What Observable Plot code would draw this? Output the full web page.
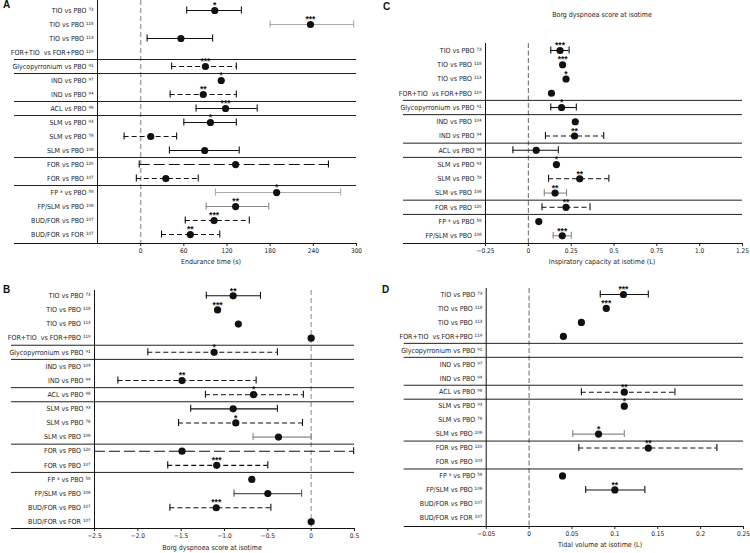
<!DOCTYPE html>
<html><head><meta charset="utf-8">
<script src="https://cdn.jsdelivr.net/npm/d3@7"></script>
<script src="https://cdn.jsdelivr.net/npm/@observablehq/plot@0.6"></script>
<style>
body{margin:0;background:#fff;}
#wrap{position:relative;width:750px;height:553px;overflow:hidden;font-family:"Liberation Sans Narrow","DejaVu Sans Condensed",Roboto,sans-serif;color:#222;}
.panel{position:absolute;}
.letter{position:absolute;font:bold 10px "Liberation Sans",Arial,sans-serif;line-height:10px;color:#111;}
.cap{position:absolute;width:220px;margin-left:-110px;text-align:center;font-size:7px;line-height:10px;color:#222;}
</style></head><body><div id="wrap"></div><script>
// ---------- data ----------
const groups17 = ["TIO","TIO","TIO","TIO","GLY","IND","IND","ACL","SLM","SLM","SLM","FOR","FOR","ICS","ICS","ICS","ICS"];
const groups14 = ["TIO","TIO","TIO","TIO","GLY","IND","IND","ACL","SLM","SLM","SLM","FOR","ICS","ICS"];

const labelsA = ["TIO vs PBO ⁷³","TIO vs PBO ¹¹⁸","TIO vs PBO ¹¹³","FOR+TIO  vs FOR+PBO ¹¹⁹","Glycopyrronium vs PBO ⁹¹","IND vs PBO ⁹⁷","IND vs PBO ⁹⁴","ACL vs PBO ⁹⁶","SLM vs PBO ⁹³","SLM vs PBO ⁷⁶","SLM vs PBO ¹⁰⁶","FOR vs PBO ¹²⁰","FOR vs PBO ¹⁰⁷","FP ᵃ vs PBO ⁵⁸","FP/SLM vs PBO ¹⁰⁶","BUD/FOR vs PBO ¹⁰⁷","BUD/FOR vs FOR ¹⁰⁷"];
const estA  = [103, 236, 56, null, 90, 112, 87, 118, 97, 14, 89, 132, 35, 189, 132, 102, 69];
const lowA  = [64, 180, 9, null, 43, null, 41, 77, 60, -23, 40, -2, -6, 104, 91, 62, 29];
const highA = [140, 296, 100, null, 133, null, 133, 162, 133, 50, 137, 261, 80, 278, 178, 151, 110];
const starsA = ["*","***","","","***","*","**","***","*","","","","","*","**","***","**"];
const barA = ["solid","lightgray","solid","","dash","","dash","solid","solid","dash","solid","longdash","dash","lightgray","gray","dash","dash"];
const ticksA = [0, 60, 120, 180, 240, 300];
const tickLabelsA = ["0","60","120","180","240","300"];

const labelsB = ["TIO vs PBO ⁷³","TIO vs PBO ¹¹⁸","TIO vs PBO ¹¹³","FOR+TIO  vs FOR+PBO ¹¹⁹","Glycopyrronium vs PBO ⁹¹","IND vs PBO ¹⁰⁴","IND vs PBO ⁹⁴","ACL vs PBO ⁹⁶","SLM vs PBO ⁹³","SLM vs PBO ⁷⁶","SLM vs PBO ¹⁰⁶","FOR vs PBO ¹²⁰","FOR vs PBO ¹⁰⁷","FP ᵃ vs PBO ⁵⁸","FP/SLM vs PBO ¹⁰⁶","BUD/FOR vs PBO ¹⁰⁷","BUD/FOR vs FOR ¹⁰⁷"];
const estB  = [-0.90, -1.08, -0.84, 0, -1.12, null, -1.49, -0.665, -0.90, -0.87, -0.377, -1.49, -1.09, -0.685, -0.50, -1.095, 0];
const lowB  = [-1.21, null, null, null, -1.885, null, -2.23, -1.22, -1.39, -1.53, -0.67, -2.5, -1.655, null, -0.89, -1.63, null];
const highB = [-0.585, null, null, null, -0.39, null, -0.635, -0.09, -0.39, -0.10, 0, 0.49, -0.50, null, -0.11, -0.465, null];
const starsB = ["**","***","","","*","","**","*","","*","","","***","","","***",""];
const barB = ["solid","","","","dash","","dash","dash","solid","dash","gray","longdash","dash","","darkgray","dash",""];
const ticksB = [-2.5, -2, -1.5, -1, -0.5, 0, 0.5];
const tickLabelsB = ["−2.5","−2.0","−1.5","−1.0","−0.5","0","0.5"];

const labelsC = ["TIO vs PBO ⁷³","TIO vs PBO ¹¹⁸","TIO vs PBO ¹¹³","FOR+TIO  vs FOR+PBO ¹¹⁹","Glycopyrronium vs PBO ⁹¹","IND vs PBO ¹⁰⁴","IND vs PBO ⁹⁴","ACL vs PBO ⁹⁶","SLM vs PBO ⁹³","SLM vs PBO ⁷⁶","SLM vs PBO ¹⁰⁶","FOR vs PBO ¹²⁰","FP ᵃ vs PBO ⁵⁸","FP/SLM vs PBO ¹⁰⁶"];
const estC  = [0.185, 0.20, 0.22, 0.135, 0.194, 0.274, 0.27, 0.046, 0.164, 0.30, 0.156, 0.22, 0.061, 0.198];
const lowC  = [0.131, null, null, null, 0.131, null, 0.10, -0.09, null, 0.118, 0.093, 0.08, null, 0.145];
const highC = [0.238, null, null, null, 0.28, null, 0.44, 0.175, null, 0.47, 0.223, 0.36, null, 0.251];
const starsC = ["***","***","*","","*","","**","","*","**","**","**","","***"];
const barC = ["solid","","","","solid","","dash","solid","","dash","gray","dash","","gray"];
const ticksC = [-0.25, 0, 0.25, 0.5, 0.75, 1, 1.25];
const tickLabelsC = ["−0.25","0","0.25","0.5","0.75","1.0","1.25"];

const labelsD = ["TIO vs PBO ⁷³","TIO vs PBO ¹¹⁸","TIO vs PBO ¹¹³","FOR+TIO  vs FOR+PBO ¹¹⁹","Glycopyrronium vs PBO ⁹¹","IND vs PBO ⁹⁷","IND vs PBO ⁹⁴","ACL vs PBO ⁹⁶","SLM vs PBO ⁹³","SLM vs PBO ⁷⁶","SLM vs PBO ¹⁰⁶","FOR vs PBO ¹²⁰","FOR vs PBO ¹⁰³","FP ᵃ vs PBO ⁵⁸","FP/SLM vs PBO ¹⁰⁶","BUD/FOR vs PBO ¹⁰⁷","BUD/FOR vs FOR ¹⁰⁷"];
const estD  = [0.110, 0.090, 0.061, 0.040, null, null, null, 0.111, 0.111, null, 0.081, 0.139, null, 0.039, 0.100, null, null];
const lowD  = [0.083, null, null, null, null, null, null, 0.061, null, null, 0.051, 0.058, null, null, 0.066, null, null];
const highD = [0.139, null, null, null, null, null, null, 0.170, null, null, 0.111, 0.219, null, null, 0.135, null, null];
const starsD = ["***","***","","","","","","**","*","","*","**","","","**","",""];
const barD = ["solid","","","","","","","dash","","","gray","dash","","","solid","",""];
const ticksD = [-0.05, 0, 0.05, 0.1, 0.15, 0.2, 0.25];
const tickLabelsD = ["−0.05","0","0.05","0.1","0.15","0.2","0.25"];

// ---------- drawing ----------
const FONT = '"Liberation Sans Narrow","DejaVu Sans Condensed",Roboto,sans-serif';
const barStyles = {
  solid: {stroke: "#111"},
  dash: {stroke: "#111", strokeDasharray: "5,3"},
  longdash: {stroke: "#111", strokeDasharray: "11,4"},
  gray: {stroke: "#888"},
  lightgray: {stroke: "#aaa"},
  darkgray: {stroke: "#555"}
};

function forest(c) {
  const rows = c.labels.map((label, i) => ({
    i, label, est: c.est[i], low: c.low[i], high: c.high[i],
    stars: c.stars[i], bar: c.bar[i], group: c.groups[i]
  }));
  const seps = rows.slice(1).filter((r, k) => r.group !== rows[k].group).map(r => r.i - 0.5);
  const yDom = [-c.padTop, rows.length - 1 + c.padBottom];
  const tickMap = new Map(c.ticks.map((t, k) => [t, c.tickLabels[k]]));
  const marks = [
    Plot.ruleX([0], {stroke: c.zeroColor, strokeDasharray: c.zeroDash, strokeWidth: c.zeroWidth}),
    Plot.ruleY(seps, {stroke: "#222", strokeWidth: 1, insetLeft: -c.labelExtent}),
    Plot.ruleY([yDom[1]], {stroke: "#111", strokeWidth: 1, insetLeft: -c.labelExtent}),
    Plot.ruleX([c.domain[0]], {stroke: "#111", strokeWidth: 1})
  ];
  for (const [key, st] of Object.entries(barStyles)) {
    const sub = rows.filter(r => r.bar === key && r.low != null);
    if (!sub.length) continue;
    marks.push(Plot.ruleY(sub, {y: "i", x1: "low", x2: "high", strokeWidth: 1.1, ...st}));
    marks.push(Plot.ruleX(sub, {x: "low", y1: r => r.i - 0.25, y2: r => r.i + 0.25, stroke: st.stroke, strokeWidth: 1.1}));
    marks.push(Plot.ruleX(sub, {x: "high", y1: r => r.i - 0.25, y2: r => r.i + 0.25, stroke: st.stroke, strokeWidth: 1.1}));
  }
  marks.push(Plot.dot(rows.filter(r => r.est != null), {x: "est", y: "i", r: 3.6, fill: "#111", stroke: "none"}));
  marks.push(Plot.text(rows.filter(r => r.est != null && r.stars), {
    x: "est", y: "i", text: "stars", dy: -5, fontSize: 8.5, fontWeight: "bold",
    fontFamily: '"Liberation Sans",Arial,sans-serif', fill: "#111"
  }));
  marks.push(Plot.axisY({ticks: rows.map(r => r.i), tickFormat: d => c.labels[d], tickSize: 0, tickPadding: 4, fontSize: 7, label: null}));
  marks.push(Plot.axisX({ticks: c.ticks, tickFormat: d => tickMap.get(d), tickSize: 3, tickPadding: 2, fontSize: 6.5, label: null}));
  return Plot.plot({
    width: c.width, height: c.height,
    marginLeft: c.marginLeft, marginRight: c.marginRight, marginTop: c.marginTop, marginBottom: c.marginBottom,
    x: {domain: c.domain},
    y: {domain: yDom, reverse: true},
    style: {fontFamily: FONT, color: "#222", background: "none", overflow: "visible"},
    marks
  });
}

const panels = [
  {left: 0, top: 0, width: 375, height: 258, marginLeft: 97, marginRight: 19, marginTop: 0, marginBottom: 15,
   padTop: 0.714, padBottom: 0.64, labelExtent: 83, domain: [-60, 300],
   zeroColor: "#aaa", zeroDash: "5,3", zeroWidth: 1.6,
   labels: labelsA, est: estA, low: lowA, high: highA, stars: starsA, bar: barA, groups: groups17, ticks: ticksA, tickLabels: tickLabelsA},
  {left: 0, top: 286, width: 375, height: 256, marginLeft: 94, marginRight: 21, marginTop: 4, marginBottom: 14,
   padTop: 0.375, padBottom: 0.47, labelExtent: 83, domain: [-2.5, 0.5],
   zeroColor: "#aaa", zeroDash: "5,3", zeroWidth: 1.4,
   labels: labelsB, est: estB, low: lowB, high: highB, stars: starsB, bar: barB, groups: groups17, ticks: ticksB, tickLabels: tickLabelsB},
  {left: 375, top: 39, width: 375, height: 218, marginLeft: 110, marginRight: 8, marginTop: 4, marginBottom: 14,
   padTop: 0.49, padBottom: 0.54, labelExtent: 82, domain: [-0.25, 1.25],
   zeroColor: "#666", zeroDash: "5,2.5", zeroWidth: 1,
   labels: labelsC, est: estC, low: lowC, high: highC, stars: starsC, bar: barC, groups: groups14, ticks: ticksC, tickLabels: tickLabelsC},
  {left: 375, top: 284, width: 375, height: 256, marginLeft: 110.7, marginRight: 7, marginTop: 4, marginBottom: 14,
   padTop: 0.43, padBottom: 0.62, labelExtent: 82, domain: [-0.05, 0.25],
   zeroColor: "#666", zeroDash: "5,2.5", zeroWidth: 1,
   labels: labelsD, est: estD, low: lowD, high: highD, stars: starsD, bar: barD, groups: groups17, ticks: ticksD, tickLabels: tickLabelsD}
];

const wrap = document.getElementById("wrap");
for (const p of panels) {
  const div = document.createElement("div");
  div.className = "panel";
  div.style.left = p.left + "px";
  div.style.top = p.top + "px";
  div.appendChild(forest(p));
  wrap.appendChild(div);
}

const letters = [["A", 3, 0], ["B", 3, 285], ["C", 383, 2], ["D", 382, 285]];
for (const [t, x, y] of letters) {
  const d = document.createElement("div");
  d.className = "letter"; d.textContent = t;
  d.style.left = x + "px"; d.style.top = y + "px";
  wrap.appendChild(d);
}
const captions = [
  ["Endurance time (s)", 211, 257],
  ["Borg dyspnoea score at isotime", 212, 543],
  ["Borg dyspnoea score at isotime", 602, 10],
  ["Inspiratory capacity at isotime (L)", 602, 257],
  ["Tidal volume at isotime (L)", 600, 540]
];
for (const [t, x, y] of captions) {
  const d = document.createElement("div");
  d.className = "cap"; d.textContent = t;
  d.style.left = x + "px"; d.style.top = y + "px";
  wrap.appendChild(d);
}
</script></body></html>
